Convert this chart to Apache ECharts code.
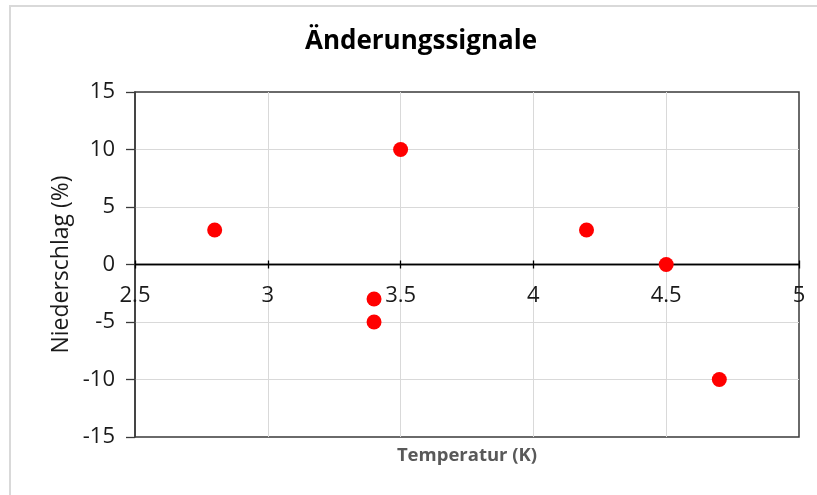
<!DOCTYPE html>
<html>
<head>
<meta charset="utf-8">
<script src="https://cdn.jsdelivr.net/npm/echarts@6/dist/echarts.min.js"></script>
<style>
  html, body { margin: 0; padding: 0; background: #fff; }
  #frame { position: absolute; left: 9px; top: 5px; width: 820px; height: 500px;
           border-left: 2px solid #d9d9d9; border-top: 2px solid #d9d9d9; box-sizing: border-box; }
  #chart { position: absolute; left: 0; top: 0; width: 817px; height: 495px; }
</style>
</head>
<body>
<div id="frame"></div>
<div id="chart"></div>
<script>
// Temperature change (K) vs. precipitation change (%)
const temperatur = [2.8, 3.4, 3.4, 3.5, 4.2, 4.5, 4.7];
const niederschlag = [3, -3, -5, 10, 3, 0, -10];
const xTicks = [2.5, 3, 3.5, 4, 4.5, 5];
const yTicks = [-15, -10, -5, 0, 5, 10, 15];

const points = temperatur.map((t, i) => [t, niederschlag[i]]);
const font = '"Open Sans", Lato, sans-serif';
const xMin = xTicks[0], xMax = xTicks[xTicks.length - 1];
const yMin = yTicks[0], yMax = yTicks[yTicks.length - 1];

// plot box in pixels; the x axis crosses at y = 0
const gridTop = 92, gridBottom = 58, chartH = 495;
const plotH = chartH - gridTop - gridBottom;
const zeroFromBottom = plotH * (0 - yMin) / (yMax - yMin);

const gridLines = { show: true, showMinLine: false, showMaxLine: false,
                    lineStyle: { color: '#d9d9d9', width: 1 } };

const chart = echarts.init(document.getElementById('chart'), null, { renderer: 'canvas' });
chart.setOption({
  backgroundColor: 'transparent',
  animation: false,
  title: {
    text: 'Änderungssignale',
    left: 416, textAlign: 'center', top: 24,
    textStyle: { fontFamily: font, fontSize: 26, fontWeight: 'bold', color: '#000' }
  },
  grid: {
    left: 135, right: 18, top: gridTop, bottom: gridBottom,
    outerBoundsMode: 'none', containLabel: false,
    show: true, borderColor: '#3a3a3a', borderWidth: 1.5, backgroundColor: 'transparent'
  },
  xAxis: [{
    type: 'value', min: xMin, max: xMax, interval: 0.5,
    position: 'bottom', offset: -zeroFromBottom,
    name: 'Temperatur (K)', nameLocation: 'middle', nameGap: 182, nameMoveOverlap: false,
    nameTextStyle: { fontFamily: font, fontSize: 18.5, fontWeight: 'bold', color: '#595959' },
    axisLine: { onZero: false, lineStyle: { color: '#000', width: 1.3 } },
    axisTick: { show: true, length: 4, lineStyle: { color: '#000', width: 1.3 } },
    axisLabel: { fontFamily: font, fontSize: 22, color: '#1a1a1a', margin: 20,
                 formatter: v => String(v) },
    splitLine: gridLines
  }, {
    // upper half of the crossing ticks on the zero line
    type: 'value', min: xMin, max: xMax, interval: 0.5,
    position: 'top', offset: -(plotH - zeroFromBottom),
    axisLine: { onZero: false, lineStyle: { color: '#000', width: 1.3 } },
    axisTick: { show: true, length: 4, lineStyle: { color: '#000', width: 1.3 } },
    axisLabel: { show: false },
    splitLine: { show: false }
  }],
  yAxis: {
    type: 'value', min: yMin, max: yMax, interval: 5,
    name: 'Niederschlag (%)', nameLocation: 'middle', nameGap: 62, nameRotate: 90,
    nameMoveOverlap: false,
    nameTextStyle: { fontFamily: font, fontSize: 23, color: '#1a1a1a' },
    axisLine: { show: true, onZero: false, lineStyle: { color: '#3a3a3a', width: 1.5 } },
    axisTick: { show: true, length: 9, lineStyle: { color: '#3a3a3a', width: 1.3 } },
    axisLabel: { fontFamily: font, fontSize: 22, color: '#1a1a1a', margin: 20 },
    splitLine: gridLines
  },
  series: [{
    type: 'scatter',
    data: points,
    symbol: 'circle',
    symbolSize: 15,
    itemStyle: { color: '#ff0000', opacity: 1 },
    z: 5
  }]
});
</script>
</body>
</html>
